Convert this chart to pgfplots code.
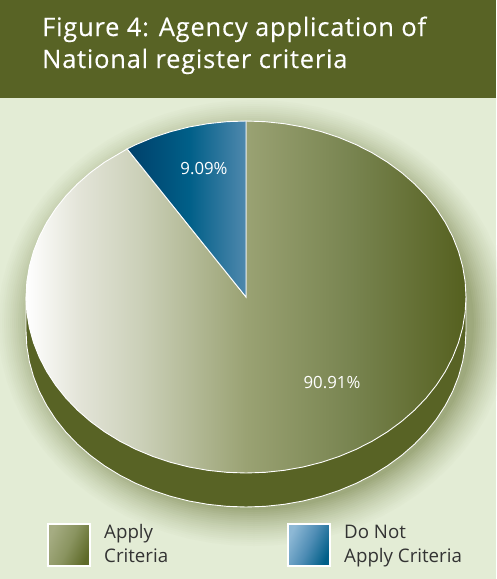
\documentclass[border=0pt]{standalone}
\usepackage{pgfplots}
\usepackage{pgfplotstable}
\usepackage{fontspec}
\pgfplotsset{compat=1.18}
\setmainfont{Open Sans}
\newfontfamily\titlefont[LetterSpace=3,FakeBold=0.25]{Open Sans}
\definecolor{bg}{HTML}{E3ECD5}
\definecolor{band}{HTML}{586325}
\definecolor{shad}{HTML}{9EA97D}
\definecolor{ink}{HTML}{333333}
\definecolor{ga}{HTML}{E3E4D8}
\definecolor{gb}{HTML}{CBD0B8}
\definecolor{gc}{HTML}{9AA273}
\definecolor{gd}{HTML}{788450}
\definecolor{ge}{HTML}{55601F}
\definecolor{ba}{HTML}{00406A}
\definecolor{bb}{HTML}{005F88}
\definecolor{bc}{HTML}{4F88AD}
\definecolor{ka}{HTML}{A5AC82}
\definecolor{kb}{HTML}{8A9460}
\definecolor{kc}{HTML}{5E6A28}
\definecolor{la}{HTML}{8DB8D5}
\definecolor{lb}{HTML}{4F8DB5}
\pgfdeclarehorizontalshading{greenpie}{100bp}{color(0bp)=(white);color(25bp)=(white);color(31bp)=(ga);color(38bp)=(gb);color(50bp)=(gc);color(62bp)=(gd);color(75bp)=(ge);color(100bp)=(ge)}
\pgfdeclarehorizontalshading{bluepie}{100bp}{color(0bp)=(ba);color(25bp)=(ba);color(51bp)=(bb);color(75bp)=(bc);color(100bp)=(bc)}
\pgfdeclarehorizontalshading{greenkey}{100bp}{color(0bp)=(ka);color(25bp)=(ka);color(50bp)=(kb);color(75bp)=(kc);color(100bp)=(kc)}
\pgfdeclarehorizontalshading{bluekey}{100bp}{color(0bp)=(la);color(25bp)=(la);color(50bp)=(lb);color(75bp)=(bb);color(100bp)=(bb)}
\pgfplotstableread{
u v
1 0
.99619 .08716
.98481 .17365
.96593 .25882
.93969 .34202
.90631 .42262
.86603 .5
.81915 .57358
.76604 .64279
.70711 .70711
.64279 .76604
.57358 .81915
.5 .86603
.42262 .90631
.34202 .93969
.25882 .96593
.17365 .98481
.08716 .99619
0 1
-.08716 .99619
-.17365 .98481
-.25882 .96593
-.34202 .93969
-.42262 .90631
-.5 .86603
-.57358 .81915
-.64279 .76604
-.70711 .70711
-.76604 .64279
-.81915 .57358
-.86603 .5
-.90631 .42262
-.93969 .34202
-.96593 .25882
-.98481 .17365
-.99619 .08716
-1 0
-.99619 -.08716
-.98481 -.17365
-.96593 -.25882
-.93969 -.34202
-.90631 -.42262
-.86603 -.5
-.81915 -.57358
-.76604 -.64279
-.70711 -.70711
-.64279 -.76604
-.57358 -.81915
-.5 -.86603
-.42262 -.90631
-.34202 -.93969
-.25882 -.96593
-.17365 -.98481
-.08716 -.99619
0 -1
.08716 -.99619
.17365 -.98481
.25882 -.96593
.34202 -.93969
.42262 -.90631
.5 -.86603
.57358 -.81915
.64279 -.76604
.70711 -.70711
.76604 -.64279
.81915 -.57358
.86603 -.5
.90631 -.42262
.93969 -.34202
.96593 -.25882
.98481 -.17365
.99619 -.08716
}\circletab
\pgfplotstableread{
u v
0 0
0 1
.08716 .99619
.17365 .98481
.25882 .96593
.34202 .93969
.42262 .90631
.5 .86603
.57358 .81915
.64279 .76604
.70711 .70711
.76604 .64279
.81915 .57358
.86603 .5
.90631 .42262
.93969 .34202
.96593 .25882
.98481 .17365
.99619 .08716
1 0
.99619 -.08716
.98481 -.17365
.96593 -.25882
.93969 -.34202
.90631 -.42262
.86603 -.5
.81915 -.57358
.76604 -.64279
.70711 -.70711
.64279 -.76604
.57358 -.81915
.5 -.86603
.42262 -.90631
.34202 -.93969
.25882 -.96593
.17365 -.98481
.08716 -.99619
0 -1
-.08716 -.99619
-.17365 -.98481
-.25882 -.96593
-.34202 -.93969
-.42262 -.90631
-.5 -.86603
-.57358 -.81915
-.64279 -.76604
-.70711 -.70711
-.76604 -.64279
-.81915 -.57358
-.86603 -.5
-.90631 -.42262
-.93969 -.34202
-.96593 -.25882
-.98481 -.17365
-.99619 -.08716
-1 0
-.99619 .08716
-.98481 .17365
-.96593 .25882
-.93969 .34202
-.90631 .42262
-.86603 .5
-.81915 .57358
-.76604 .64279
-.70711 .70711
-.64279 .76604
-.5402 .8415
}\greentab
\pgfplotstableread{
u v
0 0
0 1
-.08716 .99619
-.17365 .98481
-.25882 .96593
-.34202 .93969
-.42262 .90631
-.5 .86603
-.5402 .8415
}\bluetab
\pgfplotstableread{
u v
-1 0
-1 -.19318
-.99619 -.28034
-.98481 -.36683
-.96593 -.45200
-.93969 -.53520
-.90631 -.61580
-.86603 -.69318
-.81915 -.76676
-.76604 -.83597
-.70711 -.90029
-.64279 -.95922
-.57358 -1.01233
-.5 -1.05921
-.42262 -1.09949
-.34202 -1.13287
-.25882 -1.15911
-.17365 -1.17799
-.08716 -1.18937
0 -1.19318
.08716 -1.18937
.17365 -1.17799
.25882 -1.15911
.34202 -1.13287
.42262 -1.09949
.5 -1.05921
.57358 -1.01233
.64279 -.95922
.70711 -.90029
.76604 -.83597
.81915 -.76676
.86603 -.69318
.90631 -.61580
.93969 -.53520
.96593 -.45200
.98481 -.36683
.99619 -.28034
1 -.19318
1 0
}\rimtab
\begin{document}
\begin{tikzpicture}
\begin{axis}[
  scale only axis, width=496pt, height=579pt,
  xmin=0, xmax=496, ymin=0, ymax=579, y dir=reverse,
  hide axis, clip=true,
]
\addplot[fill=bg, draw=none] coordinates {(0,0) (496,0) (496,579) (0,579)} -- cycle;
\addplot[fill=band, draw=none] coordinates {(0,0) (496,0) (496,98) (0,98)} -- cycle;
% soft shadow: nested outlines
\pgfplotsinvokeforeach{0,1,...,19}{
  \addplot[fill=shad!\the\numexpr (#1*(#1+38)*100)/1083\relax!bg, draw=none]
    table[x expr={254+(220+38-2*#1)*\thisrow{u}}, y expr={323-(187+38-2*#1)*\thisrow{v}}] {\circletab} -- cycle;
}
% side of the pie
\addplot[fill=band, draw=white, line width=0.9pt]
  table[x expr={246+220*\thisrow{u}}, y expr={297-176*\thisrow{v}}] {\rimtab} -- cycle;
% wedges
\addplot[shading=greenpie, draw=white, line width=0.9pt]
  table[x expr={246+220*\thisrow{u}}, y expr={297-176*\thisrow{v}}] {\greentab} -- cycle;
\addplot[shading=bluepie, draw=white, line width=0.9pt]
  table[x expr={246+220*\thisrow{u}}, y expr={297-176*\thisrow{v}}] {\bluetab} -- cycle;
% legend keys
\addplot[shading=greenkey, shading angle=-25, draw=white, line width=1.6pt]
  coordinates {(48,524) (90,524) (90,566) (48,566)} -- cycle;
\addplot[shading=bluekey, shading angle=-25, draw=white, line width=1.6pt]
  coordinates {(288,524) (330,524) (330,566) (288,566)} -- cycle;
% text
\node[anchor=base west, inner sep=0pt, text=white, font=\titlefont\fontsize{25.5}{26}\selectfont] at (axis cs:42,36) {Figure 4: Agency application of};
\node[anchor=base west, inner sep=0pt, text=white, font=\titlefont\fontsize{25.5}{26}\selectfont] at (axis cs:42,68) {National register criteria};
\node[text=white, inner sep=0pt, font=\fontsize{16.8}{18}\selectfont] at (axis cs:204,169) {9.09\%};
\node[text=white, inner sep=0pt, font=\fontsize{16.8}{18}\selectfont] at (axis cs:332,383) {90.91\%};
\node[anchor=base west, inner sep=0pt, text=ink, font=\fontsize{18.7}{20}\selectfont] at (axis cs:104,538) {Apply};
\node[anchor=base west, inner sep=0pt, text=ink, font=\fontsize{18.7}{20}\selectfont] at (axis cs:104,562) {Criteria};
\node[anchor=base west, inner sep=0pt, text=ink, font=\fontsize{18.7}{20}\selectfont] at (axis cs:344,538) {Do Not};
\node[anchor=base west, inner sep=0pt, text=ink, font=\fontsize{18.7}{20}\selectfont] at (axis cs:344,562) {Apply Criteria};
\end{axis}
\end{tikzpicture}
\end{document}
